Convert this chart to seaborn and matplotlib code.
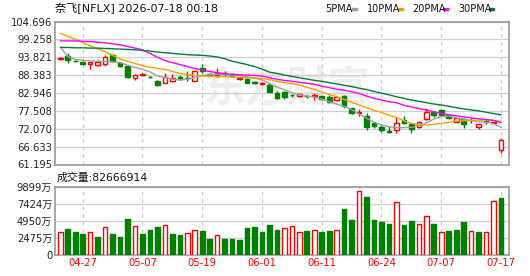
import numpy as np
import pandas as pd
import matplotlib
matplotlib.use('Agg')
import matplotlib.pyplot as plt
import seaborn as sns

# Chart text
title = '奈飞[NFLX] 2026-07-18 00:18'
vol_title = '成交量:82666914'
ma_names = ['5PMA', '10PMA', '20PMA', '30PMA']

# Trading days shown (60 sessions)
dates = pd.bdate_range('2026-04-22', '2026-07-17', freq='C',
                       holidays=['2026-05-25', '2026-06-19', '2026-07-03'])
tick_labels = ['04-27', '05-07', '05-19', '06-01', '06-11', '06-24', '07-07', '07-17']
price_ticks = [61.195, 66.633, 72.070, 77.508, 82.946, 88.383, 93.821, 99.258, 104.696]
vol_ticks = [0, 2475, 4950, 7424, 9899]

# OHLC
open_ = [93.3, 94.3, 92.8, 92.3, 91.8, 91.6, 91.8, 94.6, 92.1, 91.3,
         87.4, 88.5, 87.9, 86.6, 86.1, 86.6, 87.9, 87.6, 86.7, 90.5,
         88.7, 88.5, 89.0, 88.6, 87.3, 87.1, 86.2, 85.8, 85.4, 83.0,
         83.3, 82.4, 82.0, 82.1, 82.1, 82.0, 81.6, 80.8, 82.0, 78.3,
         77.0, 75.9, 73.7, 72.7, 71.3, 71.7, 74.7, 73.4, 72.5, 75.0,
         77.1, 77.8, 76.3, 74.2, 75.0, 74.8, 72.5, 74.3, 73.9, 65.6]
high = [93.8, 95.1, 93.0, 92.8, 92.5, 93.0, 94.5, 94.9, 92.3, 91.5,
        88.7, 89.1, 88.1, 86.9, 89.1, 88.8, 88.3, 89.7, 89.9, 91.7,
        89.0, 90.5, 89.6, 88.9, 87.9, 87.4, 86.5, 86.3, 86.0, 83.6,
        83.6, 82.6, 82.9, 82.4, 82.9, 82.1, 82.3, 81.8, 82.3, 78.4,
        78.1, 76.9, 74.2, 73.3, 72.8, 75.7, 76.0, 73.7, 74.3, 78.3,
        77.6, 78.1, 76.6, 75.6, 75.3, 75.4, 73.6, 74.7, 74.5, 69.2]
low = [93.1, 92.1, 92.4, 91.4, 90.3, 91.2, 91.2, 92.4, 91.0, 87.4,
       86.9, 88.0, 87.4, 85.1, 85.9, 86.4, 86.9, 86.7, 86.5, 88.9,
       88.0, 87.9, 88.0, 87.9, 87.0, 85.9, 85.6, 85.3, 83.1, 81.1,
       81.1, 81.7, 81.7, 81.5, 80.8, 80.7, 80.0, 80.5, 78.3, 76.7,
       76.0, 71.6, 72.4, 71.2, 70.9, 70.7, 73.4, 70.9, 72.2, 74.7,
       75.7, 75.9, 74.9, 74.0, 72.4, 73.9, 72.0, 73.5, 73.4, 64.8]
close = [93.5, 93.0, 92.7, 91.7, 92.3, 92.3, 93.9, 92.6, 91.3, 87.9,
         88.3, 88.6, 87.7, 85.4, 87.9, 87.4, 87.1, 87.4, 89.7, 89.7,
         88.5, 89.1, 88.8, 88.2, 87.5, 86.1, 86.0, 85.9, 83.3, 81.5,
         81.6, 82.2, 82.6, 81.9, 82.3, 81.1, 80.3, 81.6, 79.0, 77.0,
         77.2, 72.7, 72.9, 71.7, 71.2, 73.7, 73.7, 71.9, 74.0, 77.3,
         76.3, 76.3, 75.4, 75.3, 73.4, 74.6, 73.4, 74.1, 74.1, 68.6]

# Moving averages as drawn
ma5 = [97.0, 94.0, 93.2, 92.9, 92.7, 92.6, 92.5, 92.4, 92.2, 91.4,
       90.7, 90.2, 89.4, 88.1, 87.7, 87.2, 86.9, 87.1, 87.6, 88.3,
       88.5, 88.6, 88.7, 88.4, 88.2, 87.9, 87.4, 87.0, 85.8, 84.8,
       83.9, 83.0, 82.4, 82.0, 81.7, 81.1, 80.3, 79.6, 78.9, 77.9,
       76.6, 75.3, 74.1, 73.2, 72.7, 72.4, 72.4, 72.5, 73.0, 73.9,
       75.0, 75.8, 75.9, 75.4, 75.0, 74.6, 74.2, 74.0, 73.6, 72.5]
ma10 = [101.1, 100.2, 99.3, 98.3, 97.3, 96.4, 95.5, 94.4, 93.3, 92.6,
        91.9, 91.3, 90.8, 90.4, 90.1, 89.5, 88.9, 88.6, 88.3, 88.1,
        88.0, 87.9, 87.9, 87.8, 87.7, 87.6, 87.5, 87.4, 87.0, 86.5,
        86.1, 85.8, 85.4, 84.7, 84.0, 83.3, 82.5, 81.8, 81.0, 80.1,
        79.3, 78.5, 77.7, 77.0, 76.2, 75.5, 74.5, 73.7, 73.3, 73.2,
        73.4, 73.7, 74.0, 74.4, 74.5, 74.6, 74.7, 74.7, 74.6, 74.2]
ma20 = [98.8, 98.8, 98.8, 98.7, 98.6, 98.4, 98.2, 97.9, 97.6, 97.1,
        96.6, 96.1, 95.0, 93.8, 92.8, 92.2, 91.6, 91.0, 90.4, 89.9,
        89.5, 89.1, 88.8, 88.6, 88.5, 88.4, 88.3, 88.1, 87.6, 87.1,
        86.8, 86.5, 86.2, 85.9, 85.6, 85.0, 84.6, 84.1, 83.8, 83.3,
        82.8, 82.0, 81.3, 80.8, 80.3, 80.0, 79.2, 78.7, 78.2, 77.8,
        77.2, 76.8, 76.3, 76.0, 75.7, 75.4, 75.1, 74.9, 74.6, 74.0]
ma30 = [96.8, 96.8, 96.7, 96.7, 96.6, 96.6, 96.5, 96.4, 96.3, 96.2,
        96.1, 95.9, 95.7, 95.4, 95.2, 95.0, 94.8, 94.6, 94.5, 94.4,
        94.2, 93.9, 93.4, 92.6, 92.1, 91.6, 91.0, 90.2, 89.3, 88.9,
        88.4, 88.0, 87.6, 87.2, 86.8, 86.5, 86.1, 85.7, 85.3, 84.9,
        84.4, 84.0, 83.4, 82.9, 82.4, 81.8, 81.3, 80.8, 80.4, 80.0,
        79.6, 79.3, 78.9, 78.5, 78.1, 77.8, 77.5, 77.1, 76.7, 76.3]

# Volume in 万 shares, and the bar colour flag (1 = red / up)
volume = [3333, 3767, 3333, 3043, 3284, 2608, 4010, 3043, 2608, 5216,
          4154, 3043, 3622, 4057, 4298, 3043, 2898, 3140, 3622, 3478,
          2318, 2850, 2318, 2318, 2222, 3912, 4057, 3333, 4347, 3622,
          3864, 4250, 3284, 3478, 3622, 3333, 3478, 3622, 6666, 5072,
          9226, 8404, 5072, 4782, 4492, 7631, 4347, 4927, 4443, 5603,
          4492, 3284, 3478, 3622, 4782, 3429, 3333, 3284, 7776, 8267]
vol_up = [1, 0, 0, 0, 1, 0, 1, 0, 0, 0,
          1, 0, 0, 0, 1, 0, 0, 1, 1, 0,
          0, 1, 0, 0, 0, 0, 0, 0, 0, 0,
          1, 1, 1, 0, 1, 0, 0, 1, 0, 0,
          1, 0, 0, 0, 0, 1, 0, 0, 1, 1,
          0, 1, 0, 0, 0, 1, 0, 1, 1, 0]

RED = '#ff0000'
GREEN = '#008000'
ma_colors = {'5PMA': '#a0a0a0', '10PMA': '#f5a300', '20PMA': '#ff00ff', '30PMA': '#087a3a'}

sns.set_theme(style='white')
plt.rcParams['font.family'] = ['DejaVu Sans', 'Noto Sans CJK SC']

fig = plt.figure(figsize=(5.3, 2.76), dpi=100)
ax1 = fig.add_axes([55 / 530, 1 - 164.5 / 276, 454 / 530, 143 / 276])
ax2 = fig.add_axes([55 / 530, 1 - 255 / 276, 454 / 530, 68.3 / 276])

x = np.arange(len(close))
o = np.array(open_)
c = np.array(close)
up = c >= o
cols = np.where(up, RED, GREEN)

# candles
ax1.vlines(x, low, high, colors=cols, lw=1, zorder=3)
body_lo = np.minimum(o, c)
body_h = np.maximum(np.abs(c - o), 0.06)
ax1.bar(x, body_h, bottom=body_lo, width=0.62,
        color=np.where(up, 'white', GREEN), edgecolor=cols, linewidth=1, zorder=4)

# moving averages
ma_df = pd.DataFrame({'x': x, '5PMA': ma5, '10PMA': ma10, '20PMA': ma20, '30PMA': ma30})
ma_long = ma_df.melt(id_vars='x', var_name='ma', value_name='price')
sns.lineplot(data=ma_long, x='x', y='price', hue='ma', palette=ma_colors,
             linewidth=1, legend=False, ax=ax1, zorder=5)

# volume
vu = np.array(vol_up).astype(bool)
ax2.bar(x, volume, width=0.62, color=np.where(vu, 'white', GREEN),
        edgecolor=np.where(vu, RED, GREEN), linewidth=1, zorder=3)

# watermark
ax1.text(0.51, 0.53, '东方财富', transform=ax1.transAxes, ha='center', va='center',
         fontsize=30, fontweight='bold', color='#eeeeee', zorder=0,
         family=['Noto Sans CJK SC'])

# axes styling
tick_pos = [i for i, d in enumerate(dates.strftime('%m-%d')) if d in tick_labels]
for ax in (ax1, ax2):
    ax.set_xlim(-0.71, 60.07)
    ax.set_xlabel('')
    ax.set_ylabel('')
    for s in ax.spines.values():
        s.set_color('#999999')
        s.set_linewidth(1.2)
    for p in tick_pos:
        ax.axvline(p, color='#cccccc', ls=(0, (3, 3)), lw=0.9, zorder=1)
    ax.tick_params(axis='both', length=0, pad=2, labelsize=7.2)

ax1.set_ylim(price_ticks[0], price_ticks[-1])
ax1.set_yticks(price_ticks)
ax1.set_yticklabels([f'{v:.3f}' for v in price_ticks], color='#222222')
ax1.set_xticks([])
for v in price_ticks:
    ax1.axhline(v, color='#d0d0d0', lw=0.9, zorder=1)

ax2.set_ylim(vol_ticks[0], vol_ticks[-1])
ax2.set_yticks(vol_ticks)
ax2.set_yticklabels(['0'] + [f'{v}万' for v in vol_ticks[1:]], color='#222222')
for v in vol_ticks:
    ax2.axhline(v, color='#d0d0d0', lw=0.9, zorder=1)
ax2.set_xticks(tick_pos)
ax2.set_xticklabels(tick_labels, color=RED)

# header texts
fig.text(55 / 530, 1 - 8 / 276, title, fontsize=8, va='center', ha='left', color='#111111')
fig.text(57 / 530, 1 - 177.5 / 276, vol_title, fontsize=7.8, va='center', ha='left', color='#111111')
leg_x = [325, 367, 412, 458]
for name, lx in zip(ma_names, leg_x):
    fig.text(lx / 530, 1 - 9 / 276, name, fontsize=7, va='center', ha='left', color='#111111')
    fig.patches.append(plt.Rectangle(((lx + 27 + (4 if name != '5PMA' else 0)) / 530, 1 - 10 / 276),
                                     5 / 530, 2.2 / 276, transform=fig.transFigure,
                                     color=ma_colors[name], figure=fig))

fig.savefig('out.png', dpi=100)
